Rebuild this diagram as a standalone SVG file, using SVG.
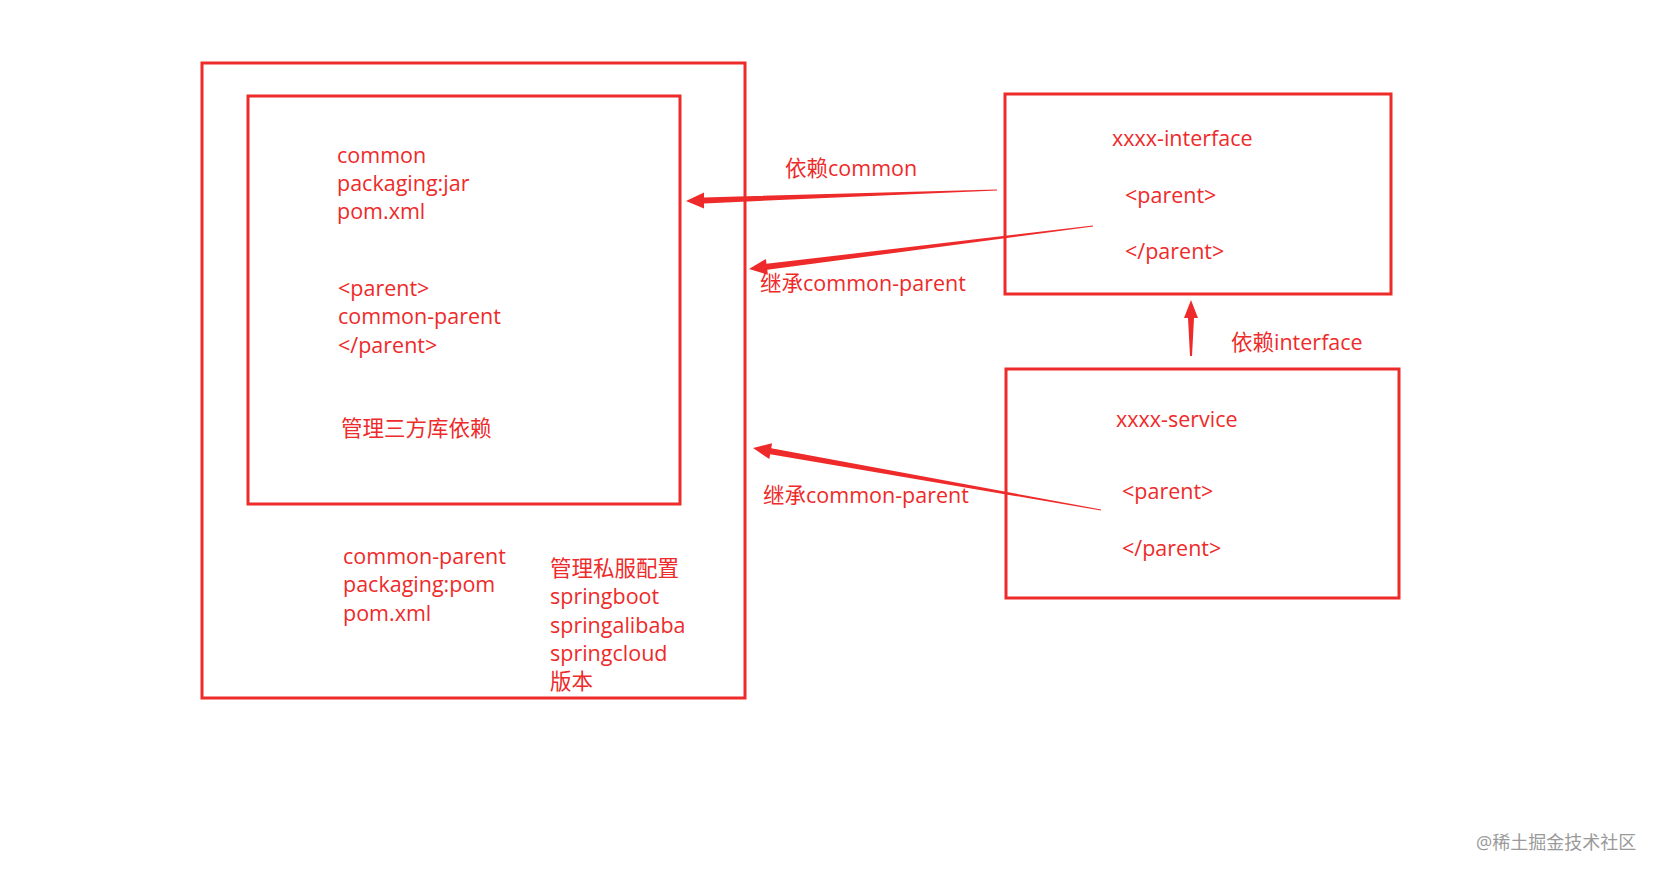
<svg xmlns="http://www.w3.org/2000/svg" width="1661" height="876" viewBox="0 0 1661 876">
<style>
.b{fill:none;stroke:#ee2a2a;stroke-width:3}
text{font-family:"Open Sans","Noto Sans CJK SC",sans-serif;font-size:21.5px;fill:#ee2a2a}
.a{fill:#ee2a2a}
.w{fill:#9a9a9a;font-size:18px}
</style>
<rect width="1661" height="876" fill="#fff"/>
<g id="common-parent"><rect class="b" x="202" y="63" width="543" height="635"/>
<text x="343" y="564">common-parent</text><text x="343" y="592">packaging:pom</text><text x="343" y="621">pom.xml</text>
<text x="550" y="576">管理私服配置</text><text x="550" y="604">springboot</text><text x="550" y="633">springalibaba</text><text x="550" y="661">springcloud</text><text x="550" y="689">版本</text></g>
<g id="common"><rect class="b" x="248" y="96" width="432" height="408"/>
<text x="337" y="163">common</text><text x="337" y="191">packaging:jar</text><text x="337" y="219">pom.xml</text>
<text x="338" y="296">&lt;parent&gt;</text><text x="338" y="324">common-parent</text><text x="338" y="353">&lt;/parent&gt;</text>
<text x="341" y="436">管理三方库依赖</text></g>
<g id="interface"><rect class="b" x="1005" y="94" width="386" height="200"/>
<text x="1112" y="146">xxxx-interface</text><text x="1125" y="203">&lt;parent&gt;</text><text x="1125" y="259">&lt;/parent&gt;</text></g>
<g id="service"><rect class="b" x="1006" y="369" width="393" height="229"/>
<text x="1116" y="427">xxxx-service</text><text x="1122" y="499">&lt;parent&gt;</text><text x="1122" y="556">&lt;/parent&gt;</text></g>
<g id="connectors">
<polygon class="a" points="997,189.5 704,197.4 704,192.4 686,201 704,208.4 704,203.4 997,190.5"/>
<polygon class="a" points="1092.9,225.5 766.5,263.8 765.9,258.9 749,269 767.9,274.7 767.3,269.8 1093.1,226.5"/>
<polygon class="a" points="1101.1,509.5 771.2,448.2 772.1,443.3 753,448 769.3,459.1 770.2,454.2 1100.9,510.5"/>
<polygon class="a" points="1190,356 1188,318 1184,318 1191,300 1198,318 1194,318 1192,356"/>
<text x="785" y="176">依赖common</text><text x="760" y="291">继承common-parent</text><text x="763" y="503">继承common-parent</text><text x="1231" y="350">依赖interface</text>
</g>
<text class="w" x="1476" y="849">@稀土掘金技术社区</text>
</svg>
